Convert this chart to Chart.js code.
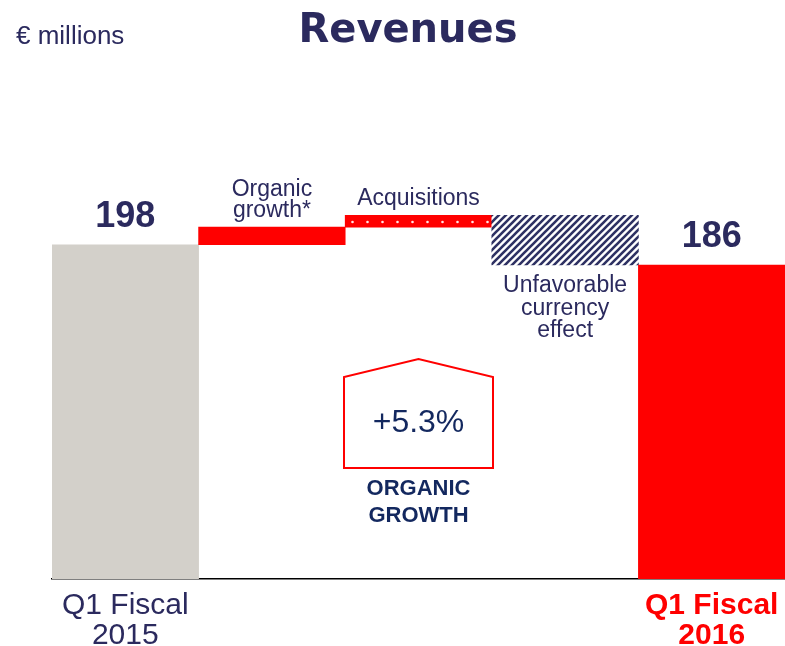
<!DOCTYPE html>
<html>
<head>
<meta charset="utf-8">
<title>Revenues</title>
<script src="https://cdn.jsdelivr.net/npm/chart.js@4"></script>
<style>
    body { margin: 0; background: #ffffff; }
    #wrap { width: 785px; height: 646px; }
</style>
</head>
<body>
<div id="wrap"><canvas id="revChart" width="785" height="646"></canvas></div>
<script>
// data (€ millions)
const categories = ['Q1 Fiscal 2015', 'Organic growth*', 'Acquisitions', 'Unfavorable currency effect', 'Q1 Fiscal 2016'];
const barStart = [0, 198, 208.5, 215.5, 0];
const barEnd = [198, 208.5, 215.5, 186, 186];
const valueLabels = ['198', '', '', '', '186'];
const tickLabels = [['Q1 Fiscal', '2015'], '', '', '', ['Q1 Fiscal', '2016']];
const stepLabels = [[], ['Organic', 'growth*'], ['Acquisitions'], ['Unfavorable', 'currency', 'effect'], []];
const organicGrowth = '+5.3%';

const NAVY = '#2b2a5e';
const DARK_BLUE = '#13285f';
const RED = '#ff0000';
const GREY = '#d3d0ca';
const FONT = "'Liberation Sans', Arial, sans-serif";

// red with small white dots (acquisitions)
function dotPattern() {
    const c = document.createElement('canvas');
    c.width = 15; c.height = 12;
    const g = c.getContext('2d');
    g.fillStyle = RED;
    g.fillRect(0, 0, 15, 12);
    g.fillStyle = 'rgba(255,255,255,0.9)';
    g.beginPath();
    g.arc(7.5, 6, 1.3, 0, Math.PI * 2);
    g.fill();
    return g.createPattern(c, 'repeat');
}

// navy diagonal stripes (currency effect)
function hatchPattern() {
    const s = 7;
    const c = document.createElement('canvas');
    c.width = s; c.height = s;
    const g = c.getContext('2d');
    g.fillStyle = '#ffffff';
    g.fillRect(0, 0, s, s);
    g.strokeStyle = '#2e3163';
    g.lineWidth = 2.6;
    g.beginPath();
    g.moveTo(-1, s + 1); g.lineTo(s + 1, -1);
    g.moveTo(-1, 1); g.lineTo(1, -1);
    g.moveTo(s - 1, s + 1); g.lineTo(s + 1, s - 1);
    g.stroke();
    return g.createPattern(c, 'repeat');
}

const barColors = [GREY, RED, dotPattern(), hatchPattern(), RED];

// titles, value labels, step labels and the organic growth box
const textPlugin = {
    id: 'slideText',
    afterDraw(chart) {
        const ctx = chart.ctx;
        const meta = chart.getDatasetMeta(0);
        const x = chart.scales.x;
        const y = chart.scales.y;
        ctx.save();

        ctx.fillStyle = NAVY;
        ctx.textBaseline = 'alphabetic';
        ctx.textAlign = 'left';
        ctx.font = `26px ${FONT}`;
        ctx.fillText('€ millions', 16, 44);
        ctx.textAlign = 'center';
        ctx.font = "bold 40px 'DejaVu Sans', sans-serif";
        ctx.fillText('Revenues', 408, 42);

        meta.data.forEach((bar, i) => {
            const top = Math.min(bar.y, bar.base);
            const bottom = Math.max(bar.y, bar.base);
            if (valueLabels[i]) {
                ctx.font = `bold 36px ${FONT}`;
                ctx.fillStyle = NAVY;
                ctx.fillText(valueLabels[i], bar.x, top - 18);
            }
            const lines = stepLabels[i];
            if (!lines.length) return;
            ctx.font = `23px ${FONT}`;
            ctx.fillStyle = NAVY;
            if (barEnd[i] < barStart[i]) {
                lines.forEach((t, k) => ctx.fillText(t, bar.x, bottom + 27 + k * 22.5));
            } else {
                lines.forEach((t, k) => ctx.fillText(t, bar.x, top - 10 - (lines.length - 1 - k) * 21));
            }
        });

        // house-shaped box under the acquisitions column
        const cx = x.getPixelForValue(2);
        const half = 74.5;
        const apex = y.getPixelForValue(130.3);
        const shoulder = y.getPixelForValue(119.6);
        const foot = y.getPixelForValue(65.8);
        ctx.strokeStyle = RED;
        ctx.lineWidth = 2;
        ctx.beginPath();
        ctx.moveTo(cx - half, foot);
        ctx.lineTo(cx - half, shoulder);
        ctx.lineTo(cx, apex);
        ctx.lineTo(cx + half, shoulder);
        ctx.lineTo(cx + half, foot);
        ctx.closePath();
        ctx.stroke();

        ctx.fillStyle = DARK_BLUE;
        ctx.font = `32px ${FONT}`;
        ctx.fillText(organicGrowth, cx, y.getPixelForValue(93.6) + 11);
        ctx.font = `bold 22px ${FONT}`;
        ctx.fillText('ORGANIC', cx, y.getPixelForValue(49.8));
        ctx.fillText('GROWTH', cx, y.getPixelForValue(33.8));

        ctx.restore();
    }
};

const ctx = document.getElementById('revChart').getContext('2d');
const chart = new Chart(ctx, {
    type: 'bar',
    data: {
        labels: categories,
        datasets: [{
            data: barStart.map((s, i) => [s, barEnd[i]]),
            backgroundColor: barColors,
            borderWidth: 0,
            barPercentage: 1,
            categoryPercentage: 1
        }]
    },
    options: {
        responsive: false,
        animation: false,
        devicePixelRatio: 1,
        layout: {
            padding: { left: 52, right: 0, top: 157, bottom: 0 }
        },
        scales: {
            x: {
                afterFit: (scale) => {
                    scale.height = 67;
                    scale.paddingLeft = 0;
                    scale.paddingRight = 0;
                },
                grid: { display: false, drawTicks: false, tickLength: 0 },
                border: { display: true, color: '#000000', width: 1.5 },
                ticks: {
                    autoSkip: false,
                    maxRotation: 0,
                    padding: 12,
                    callback: (value, index) => tickLabels[index],
                    color: (c) => c.index === 4 ? RED : NAVY,
                    font: (c) => ({
                        family: FONT,
                        size: 30,
                        weight: c.index === 4 ? 'bold' : 'normal',
                        lineHeight: 1.0
                    })
                }
            },
            y: {
                display: false,
                min: 0,
                max: 250
            }
        },
        plugins: {
            legend: { display: false },
            tooltip: { enabled: false }
        }
    },
    plugins: [textPlugin]
});
</script>
</body>
</html>
